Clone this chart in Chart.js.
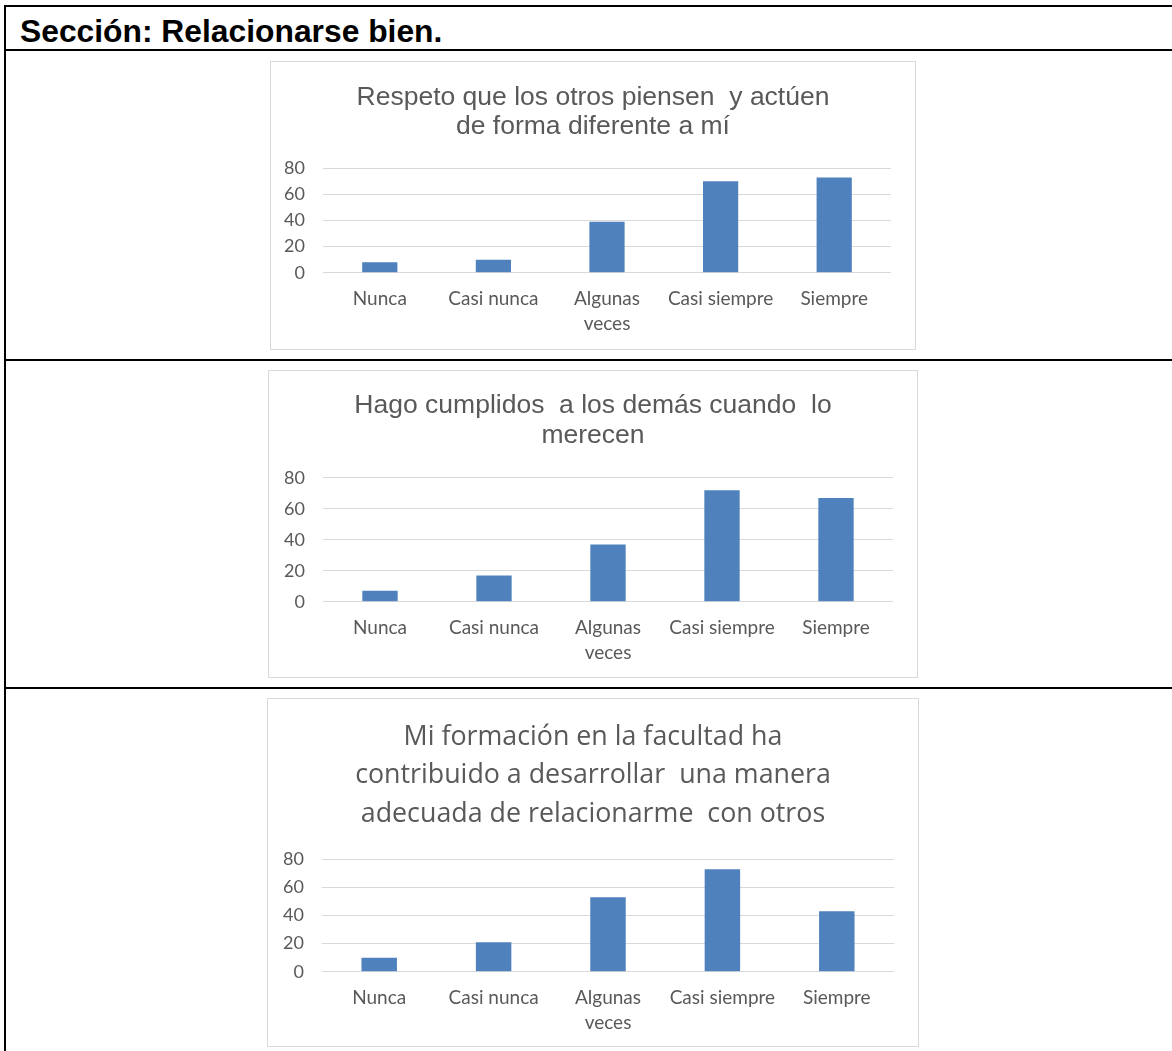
<!DOCTYPE html>
<html lang="es">
<head>
<meta charset="utf-8">
<title>Sección: Relacionarse bien.</title>
<script src="https://cdn.jsdelivr.net/npm/chart.js@4.4.1/dist/chart.umd.min.js"></script>
<style>
    html, body { margin: 0; padding: 0; background: #fff; }
    body { width: 1172px; height: 1051px; position: relative; overflow: hidden; }
    .rule { position: absolute; background: #000; }
    .heading {
        position: absolute; left: 20px; top: 13px; line-height: 32px;
        font: bold 31.8px "Liberation Sans", Arial, sans-serif; color: #000;
        white-space: nowrap;
    }
    .chart-box {
        position: absolute; box-sizing: border-box;
        border: 1px solid #d9d9d9; background: #fff;
    }
    .chart-box canvas { display: block; }
</style>
</head>
<body>

<!-- tabla -->
<div class="rule" style="left:4px; top:5px; width:1168px; height:2px;"></div>
<div class="rule" style="left:4px; top:5px; width:2px; height:1046px;"></div>
<div class="rule" style="left:4px; top:49px; width:1168px; height:2px;"></div>
<div class="rule" style="left:4px; top:359px; width:1168px; height:2px;"></div>
<div class="rule" style="left:4px; top:687px; width:1168px; height:2px;"></div>
<div class="heading">Sección: Relacionarse bien.</div>

<div class="chart-box" style="left:270px; top:61px; width:646px; height:289px;">
    <canvas id="chart-respeto"></canvas>
</div>
<div class="chart-box" style="left:268px; top:370px; width:650px; height:308px;">
    <canvas id="chart-cumplidos"></canvas>
</div>
<div class="chart-box" style="left:267px; top:698px; width:652px; height:349px;">
    <canvas id="chart-formacion"></canvas>
</div>

<script>
// Datos de las encuestas
const categories = ['Nunca', 'Casi nunca', ['Algunas', 'veces'], 'Casi siempre', 'Siempre'];
const respetoValues = [8, 10, 39, 70, 73];
const cumplidosValues = [7, 17, 37, 72, 67];
const formacionValues = [10, 21, 53, 73, 43];
const yMax = 80;
const yStep = 20;

const respetoTitle = ['Respeto que los otros piensen  y actúen', 'de forma diferente a mí'];
const cumplidosTitle = ['Hago cumplidos  a los demás cuando  lo', 'merecen'];
const formacionTitle = ['Mi formación en la facultad ha', 'contribuido a desarrollar  una manera', 'adecuada de relacionarme  con otros'];

const barColor = '#4f81bd';
const textColor = '#595959';
const gridColor = '#d9d9d9';

function renderBarChart(canvasId, titleLines, values, cfg) {
    const canvas = document.getElementById(canvasId);
    const box = canvas.parentElement;
    canvas.width = box.clientWidth;
    canvas.height = box.clientHeight;

    return new Chart(canvas.getContext('2d'), {
        type: 'bar',
        data: {
            labels: categories,
            datasets: [{
                data: values,
                backgroundColor: barColor,
                borderWidth: 0,
                categoryPercentage: 1,
                barPercentage: 0.31
            }]
        },
        options: {
            responsive: false,
            animation: false,
            devicePixelRatio: 1,
            layout: { padding: { left: 0, right: 0, top: cfg.top, bottom: cfg.bottom } },
            plugins: {
                legend: { display: false },
                tooltip: { enabled: false },
                title: {
                    display: true,
                    text: titleLines,
                    color: textColor,
                    font: cfg.titleFont,
                    padding: cfg.titlePadding
                }
            },
            scales: {
                x: {
                    grid: { display: false, drawTicks: false },
                    border: { display: false },
                    ticks: {
                        color: textColor,
                        font: { family: 'Lato', size: 19, lineHeight: 1.35 },
                        padding: 13,
                        maxRotation: 0,
                        autoSkip: false
                    }
                },
                y: {
                    min: 0,
                    max: yMax,
                    ticks: {
                        stepSize: yStep,
                        autoSkip: false,
                        color: textColor,
                        font: { family: 'Lato', size: 18, lineHeight: 1 },
                        padding: 18
                    },
                    grid: { color: gridColor, drawTicks: false },
                    border: { display: false },
                    afterFit: scale => { scale.width = cfg.axisLeft; }
                },
                // margen derecho del área de trazado, sin marcas
                margin: {
                    type: 'linear',
                    position: 'right',
                    grid: { display: false },
                    border: { display: false },
                    ticks: { display: false },
                    afterFit: scale => { scale.width = cfg.axisRight; }
                }
            }
        }
    });
}

// la escala reserva el padding de las etiquetas a ambos lados
renderBarChart('chart-respeto', respetoTitle, respetoValues, {
    top: 21, bottom: -1, axisLeft: 52, axisRight: 24,
    titleFont: { family: 'Liberation Sans', size: 26.5, weight: 'normal', lineHeight: 1.1 },
    titlePadding: { top: 0, bottom: 27 }
});

renderBarChart('chart-cumplidos', cumplidosTitle, cumplidosValues, {
    top: 20, bottom: -2, axisLeft: 54, axisRight: 24,
    titleFont: { family: 'Liberation Sans', size: 26.5, weight: 'normal', lineHeight: 1.13 },
    titlePadding: { top: 0, bottom: 27 }
});

renderBarChart('chart-formacion', formacionTitle, formacionValues, {
    top: 19, bottom: -3, axisLeft: 54, axisRight: 24,
    titleFont: { family: 'Open Sans', size: 26.8, weight: 'normal', lineHeight: 1.436 },
    titlePadding: { top: 0, bottom: 26 }
});
</script>
</body>
</html>
